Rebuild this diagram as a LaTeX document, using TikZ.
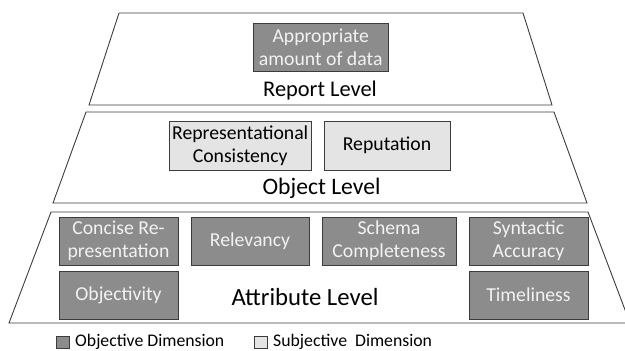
\documentclass[tikz,border=0pt]{standalone}
\usepackage{fontspec}
\setmainfont{Carlito}
\definecolor{darkfill}{HTML}{8C8C8C}
\definecolor{lightfill}{HTML}{E4E4E4}
\definecolor{edge}{HTML}{3C3C3C}
\definecolor{boxtext}{HTML}{F2F2F2}
\begin{document}
\begin{tikzpicture}[x=1bp,y=-1bp,
  level/.style={draw=edge, line width=0.9bp, line join=miter},
  dimbox/.style={draw=edge, line width=0.8bp, inner sep=0pt, align=center,
    font=\fontsize{19.8}{23}\selectfont, minimum height=48bp},
  objbox/.style={dimbox, fill=darkfill, text=boxtext},
  subbox/.style={dimbox, fill=lightfill, text=black},
  levellabel/.style={inner sep=0pt, font=\fontsize{22.5}{26}\selectfont},
  legendsq/.style={draw=edge, line width=0.8bp, inner sep=0pt, minimum width=13bp, minimum height=12bp},
  legendtext/.style={inner sep=0pt, anchor=west, font=\fontsize{17.8}{20}\selectfont}]
\useasboundingbox (0,0) rectangle (625,350);
\clip (0,0) rectangle (625,350);
% levels
\draw[level] (119,13) -- (523,13) -- (552,105) -- (89,105) -- cycle;
\draw[level] (86,112) -- (554,112) -- (587,203) -- (53,203) -- cycle;
\draw[level] (51,212) -- (588,212) -- (630,323) -- (9,323) -- cycle;
% report level
\node[objbox, minimum width=134.7bp] (app) at (320.7,46.9) {Appropriate\\amount of data};
\node[levellabel] (rl) at (320,91) {Report Level};
% object level
\node[subbox, minimum width=141.7bp, minimum height=49bp] (repcons) at (240.2,145.5) {Representational\\Consistency};
\node[subbox, minimum width=126bp, minimum height=49bp] (reput) at (387,145.5) {Reputation};
\node[levellabel, font=\fontsize{23.7}{27}\selectfont] (ol) at (321.5,188) {Object Level};
% attribute level
\node[objbox, minimum width=119bp] (concise) at (118.5,241) {Concise Re-\\presentation};
\node[objbox, minimum width=118bp] (relev) at (250,241) {Relevancy};
\node[objbox, minimum width=134bp] (schema) at (389,241) {Schema\\Completeness};
\node[objbox, minimum width=119bp] (synt) at (528.5,241) {Syntactic\\Accuracy};
\node[objbox, minimum width=119bp] (objv) at (118.5,295) {Objectivity};
\node[objbox, minimum width=119bp] (timel) at (528.5,295) {Timeliness};
\node[levellabel, font=\fontsize{24.8}{28}\selectfont] (al) at (305,297) {Attribute Level};
% legend
\node[legendsq, fill=darkfill] (sq1) at (62.5,342) {};
\node[legendtext] (lt1) at (75,342) {Objective Dimension};
\node[legendsq, fill=lightfill] (sq2) at (260.5,342) {};
\node[legendtext] (lt2) at (273,342) {Subjective\ \ Dimension};
\end{tikzpicture}
\end{document}
